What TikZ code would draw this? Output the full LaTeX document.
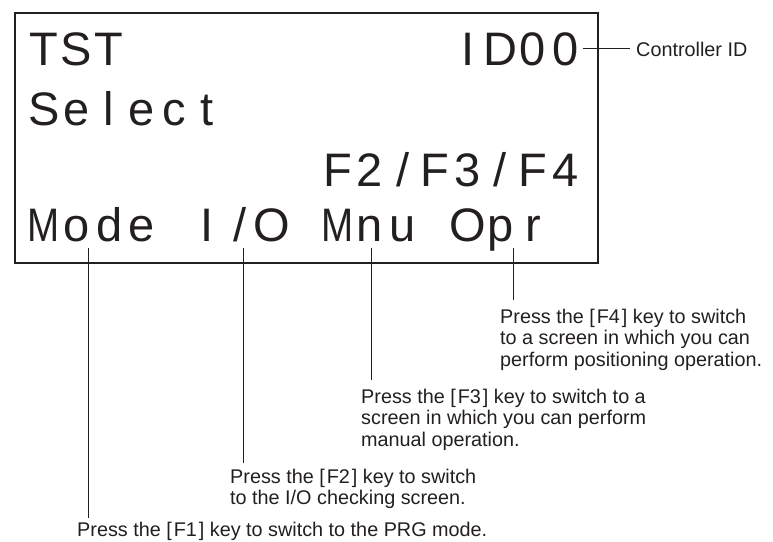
\documentclass[tikz,border=0pt]{standalone}
\usepackage{fontspec}
\usepackage{graphicx}
\setmainfont{Liberation Sans}
\definecolor{ink}{HTML}{231F20}
\newcommand\lcdslash{/}
\newcommand\lcdM{\scalebox{0.82}[1]{M}}
\newcommand\kb[1]{[\kern0.1em#1\kern0.1em]}
\begin{document}
\begin{tikzpicture}[x=1bp,y=-1bp,
  lcd/.style={font=\fontsize{47bp}{47bp}\selectfont, text=ink, inner sep=0pt, anchor=base},
  note/.style={font=\fontsize{19.8bp}{21.5bp}\selectfont, text=ink, inner sep=0pt, anchor=base west},
  leader/.style={draw=ink, line width=0.9bp},
  frame/.style={draw=ink, line width=2bp, inner sep=0pt, anchor=north west}]
\useasboundingbox (0,0) rectangle (773,542);
% LCD frame
\node[frame, minimum width=583bp, minimum height=250bp] (lcdbox) at (14,12) {};
% LCD characters on a grid
\foreach \c/\ch in {0/T,1/S,2/T,13/I,14/D,15/0,16/0}
  \node[lcd] (ra\c) at ({44+32.6*\c},66) {\ch};
\foreach \c/\ch in {0/S,1/e,2/l,3/e,4/c,5/t}
  \node[lcd] (rb\c) at ({44+32.6*\c},126) {\ch};
\foreach \c/\ch in {9/F,10/2,11/\lcdslash,12/F,13/3,14/\lcdslash,15/F,16/4}
  \node[lcd] (rc\c) at ({44+32.6*\c},187) {\ch};
\foreach \c/\ch in {0/\lcdM,1/o,2/d,3/e,5/I,6/\lcdslash,7/O,9/\lcdM,10/n,11/u,13/O,14/p,15/r}
  \node[lcd] (rd\c) at ({44+32.6*\c},242) {\ch};
% Controller ID
\node[note, anchor=west] (cid) at (636,49) {Controller ID};
\coordinate (cidstart) at (583,48);
\draw[leader] (cidstart) -- ([xshift=-6bp]cid.west |- cidstart);
% notes
\node[note] (f4a) at (500,323) {Press the \kb{F4} key to switch};
\node[note] (f4b) at (500,344.5) {to a screen in which you can};
\node[note] (f4c) at (500,366) {perform positioning operation.};
\node[note] (f3a) at (361,403) {Press the \kb{F3} key to switch to a};
\node[note] (f3b) at (361,424.5) {screen in which you can perform};
\node[note] (f3c) at (361,446) {manual operation.};
\node[note] (f2a) at (230,483) {Press the \kb{F2} key to switch};
\node[note] (f2b) at (230,504) {to the I/O checking screen.};
\node[note] (f1a) at (77,536.5) {Press the \kb{F1} key to switch to the PRG mode.};
% leaders
\coordinate (l1) at (88,248);  \coordinate (l1e) at (88,518);
\coordinate (l2) at (243,248); \coordinate (l2e) at (243,463);
\coordinate (l3) at (371,248); \coordinate (l3e) at (371,380);
\coordinate (l4) at (513,248); \coordinate (l4e) at (513,300);
\draw[leader] (l1) -- (l1e);
\draw[leader] (l2) -- (l2e);
\draw[leader] (l3) -- (l3e);
\draw[leader] (l4) -- (l4e);
\end{tikzpicture}
\end{document}
